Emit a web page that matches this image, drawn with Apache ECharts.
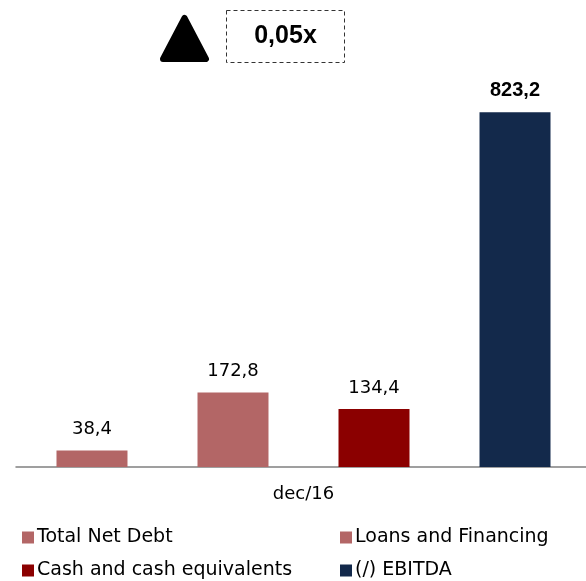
<!DOCTYPE html>
<html>
<head>
<meta charset="utf-8">
<script src="https://cdn.jsdelivr.net/npm/echarts@6/dist/echarts.min.js"></script>
<style>
  html, body { margin: 0; padding: 0; background: #fff; }
  #chart { width: 586px; height: 581px; }
</style>
</head>
<body>
<div id="chart"></div>
<script>
// data
const categories = ['dec/16']
const seriesNames = ['Total Net Debt', 'Loans and Financing', 'Cash and cash equivalents', '(/) EBITDA']
const seriesValues = [38.4, 172.8, 134.4, 823.2]
const seriesColors = ['#b36666', '#b36666', '#8b0000', '#13294b']
const multipleText = '0,05x'

const FONT = 'DejaVu Sans, Liberation Sans, Arial, sans-serif'
const BOX_FONT = 'Liberation Sans, Arial, sans-serif'

const fmt = (v) => v.toFixed(1).replace('.', ',')

const series = seriesNames.map((name, i) => ({
  name,
  type: 'bar',
  data: [seriesValues[i]],
  barWidth: 71,
  barGap: '98.6%',
  itemStyle: { color: seriesColors[i] },
  label: {
    show: true,
    position: 'top',
    distance: 12,
    color: '#000',
    fontSize: i === 3 ? 20 : 18,
    fontFamily: i === 3 ? BOX_FONT : FONT,
    fontWeight: i === 3 ? 'bold' : 'normal',
    formatter: (p) => fmt(p.value),
  },
}))

// one legend per item so they sit in two columns
const legendPos = [
  { left: 22, top: 528 },
  { left: 340, top: 528 },
  { left: 22, top: 561 },
  { left: 340, top: 561 },
]
const legend = seriesNames.map((name, i) => ({
  data: [name],
  left: legendPos[i].left,
  top: legendPos[i].top,
  padding: 0,
  itemWidth: 12,
  itemHeight: 12,
  icon: 'rect',
  selectedMode: false,
  textStyle: { color: '#000', fontSize: 19, fontFamily: FONT, padding: [0, 0, 0, -2] },
}))

const chart = echarts.init(document.getElementById('chart'), null, { renderer: 'canvas' })
chart.setOption({
  animation: false,
  backgroundColor: '#fff',
  grid: { left: 16, width: 575, top: 36, bottom: 114, outerBoundsMode: 'none' },
  legend,
  xAxis: {
    type: 'category',
    data: categories,
    axisLine: { lineStyle: { color: '#808080', width: 1.5 } },
    axisTick: { length: 6, lineStyle: { color: '#808080', width: 1.5 } },
    axisLabel: { color: '#000', fontSize: 18, fontFamily: FONT, margin: 18 },
  },
  yAxis: {
    type: 'value',
    min: 0,
    max: 1000,
    show: false,
    splitLine: { show: false },
  },
  graphic: [
    {
      type: 'polygon',
      shape: { points: [[163, 59], [184.5, 18], [206, 59]] },
      style: { fill: '#000', stroke: '#000', lineWidth: 6, lineJoin: 'round' },
    },
    {
      type: 'rect',
      shape: { x: 226.5, y: 10.5, width: 118, height: 52 },
      style: { fill: 'none', stroke: '#333', lineWidth: 1, lineDash: [4, 3] },
    },
    {
      type: 'text',
      x: 285.5,
      y: 36.5,
      style: {
        text: multipleText,
        fill: '#000',
        font: 'bold 25px ' + BOX_FONT,
        align: 'center',
        verticalAlign: 'middle',
      },
    },
  ],
  series,
})
</script>
</body>
</html>
